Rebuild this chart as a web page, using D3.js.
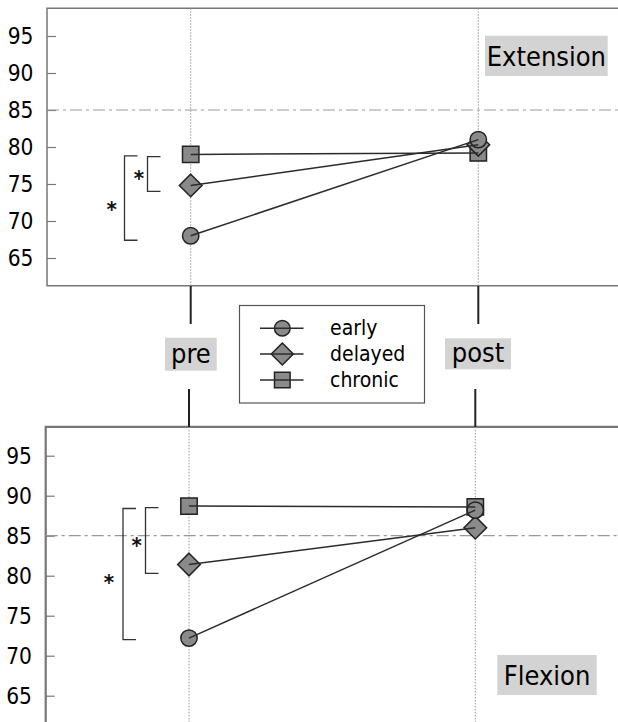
<!DOCTYPE html>
<html><head><meta charset="utf-8">
<script src="https://cdn.jsdelivr.net/npm/d3@7"></script>
<style>
html,body{margin:0;padding:0;background:#fff;}
svg text{font-family:"DejaVu Sans Condensed","DejaVu Sans",sans-serif;font-stretch:condensed;}
</style></head>
<body>
<svg id="chart" width="618" height="722"></svg>
<script>
// ---- data ----
const timepoints = ["pre", "post"];
const groups = ["early", "delayed", "chronic"];
const shapes = ["circle", "diamond", "square"];
const extensionPre = [68.0, 74.8, 79.0];
const extensionPost = [81.0, 80.3, 79.2];
const flexionPre = [72.2, 81.4, 88.7];
const flexionPost = [88.2, 86.0, 88.6];
const yTicks = [65, 70, 75, 80, 85, 90, 95];
const refValue = 85;
const panelNames = ["Extension", "Flexion"];
// significance brackets [from, to] in data units; outer then inner
const extBrackets = [[78.8, 67.4], [78.7, 74.0]];
const flexBrackets = [[88.4, 72.0], [88.5, 80.3]];

const svg = d3.select("#chart");
const lineCol = "#2b2b2b", fillCol = "#8a8a8a", frameCol = "#777";

function symbolPath(shape, size) {
  if (shape === "circle") return d3.symbol(d3.symbolCircle, Math.PI * size * size)();
  if (shape === "square") return d3.symbol(d3.symbolSquare, (2 * size) * (2 * size))();
  const h = size * 1.38;
  return `M0,${-h}L${h},0L0,${h}L${-h},0Z`;
}

function drawPanel(cfg) {
  const g = svg.append("g");
  const y = d3.scaleLinear().domain([65, 95]).range(cfg.yRange);
  const x = d3.scalePoint().domain(timepoints).range(cfg.xRange);
  const top = y(cfg.domain[1]), bottom = y(cfg.domain[0]);
  const left = cfg.left;

  g.append("path")
    .attr("d", `M700,${top}H${left}V${bottom}H700`)
    .attr("fill", "none").attr("stroke", frameCol).attr("stroke-width", cfg.topWidth || 1.5);

  const ax = g.append("g").attr("transform", `translate(${left},0)`)
    .call(d3.axisRight(y).tickValues(yTicks).tickSize(9).tickFormat(""));
  ax.select(".domain").remove();
  ax.selectAll(".tick line").attr("stroke", frameCol).attr("stroke-width", 1.2);
  g.selectAll(".ylab").data(yTicks).enter().append("text")
    .attr("x", cfg.labelX).attr("y", d => y(d)).attr("dy", "0.36em")
    .attr("text-anchor", "end").attr("font-size", 22.5).attr("fill", "#000")
    .text(d => d);

  g.selectAll(".vgrid").data(timepoints).enter().append("line")
    .attr("x1", d => x(d)).attr("x2", d => x(d))
    .attr("y1", top).attr("y2", bottom)
    .attr("stroke", "#999").attr("stroke-width", 1).attr("stroke-dasharray", "1.5,1.5");

  g.append("line").attr("x1", left).attr("x2", 618)
    .attr("y1", y(refValue)).attr("y2", y(refValue))
    .attr("stroke", "#999").attr("stroke-width", 1.2).attr("stroke-dasharray", "12,4,3,4");

  cfg.brackets.forEach((b, i) => {
    const bx = cfg.bracketX[i];
    g.append("path")
      .attr("d", `M${bx + 13},${y(b[0])}H${bx}V${y(b[1])}H${bx + 13}`)
      .attr("fill", "none").attr("stroke", "#333").attr("stroke-width", 1.3);
    g.append("text").attr("x", cfg.starPos[i][0]).attr("y", cfg.starPos[i][1] + 10.5)
      .attr("text-anchor", "middle").attr("font-size", 22).attr("font-weight", "bold").attr("fill", "#111")
      .text("*");
  });

  const idx = d3.range(groups.length).reverse();
  idx.forEach(i => {
    [["pre", cfg.pre[i]], ["post", cfg.post[i]]].forEach(([t, v]) => {
      g.append("path").attr("d", symbolPath(shapes[i], 8.2))
        .attr("transform", `translate(${x(t)},${y(v)})`)
        .attr("fill", fillCol).attr("stroke", "#222").attr("stroke-width", 1.5);
    });
  });
  const line = d3.line().x(d => x(d[0])).y(d => y(d[1]));
  idx.forEach(i => {
    g.append("path").attr("d", line([["pre", cfg.pre[i]], ["post", cfg.post[i]]]))
      .attr("fill", "none").attr("stroke", lineCol).attr("stroke-width", 1.5);
  });

  const lb = cfg.labelBox;
  g.append("rect").attr("x", lb[0]).attr("y", lb[1]).attr("width", lb[2]).attr("height", lb[3]).attr("fill", "#d3d3d3");
  g.append("text").attr("x", lb[0] + lb[2] / 2).attr("y", lb[1] + lb[3] / 2).attr("dy", "0.36em")
    .attr("text-anchor", "middle").attr("font-size", 27).attr("fill", "#000").text(cfg.name);
  return x;
}

const xTop = drawPanel({
  yRange: [258, 36], domain: [61.25, 98.75], xRange: [190.7, 478.3], left: 47, labelX: 33.5,
  pre: extensionPre, post: extensionPost, brackets: extBrackets, bracketX: [124.5, 147.5],
  starPos: [[111.7, 206.7], [139, 175.7]], labelBox: [485, 35.7, 122.7, 40.3], name: panelNames[0]
});
const xBot = drawPanel({
  yRange: [695.7, 455.7], domain: [60, 98.6], xRange: [189, 475.3], left: 45.7, labelX: 32,
  pre: flexionPre, post: flexionPost, brackets: flexBrackets, bracketX: [123, 145.5],
  starPos: [[109, 579.3], [136.7, 542.7]], labelBox: [497.3, 655, 99.4, 40], name: panelNames[1], topWidth: 2.2
});

const mid = svg.append("g");
timepoints.forEach((t, i) => {
  mid.append("line").attr("x1", xTop(t)).attr("x2", xTop(t)).attr("y1", 286).attr("y2", 324)
    .attr("stroke", "#222").attr("stroke-width", 2);
  mid.append("line").attr("x1", xBot(t)).attr("x2", xBot(t)).attr("y1", 389).attr("y2", 427)
    .attr("stroke", "#222").attr("stroke-width", 2);
});
const tBoxes = [[165, 337.7, 51.7, 33], [445, 338.3, 66, 31]];
timepoints.forEach((t, i) => {
  const b = tBoxes[i];
  mid.append("rect").attr("x", b[0]).attr("y", b[1]).attr("width", b[2]).attr("height", b[3]).attr("fill", "#d3d3d3");
  mid.append("text").attr("x", b[0] + b[2] / 2).attr("y", b[1] + b[3] / 2).attr("dy", "0.32em")
    .attr("text-anchor", "middle").attr("font-size", 27).attr("fill", "#000").text(t);
});

const lg = svg.append("g");
lg.append("rect").attr("x", 239.5).attr("y", 305.5).attr("width", 185).attr("height", 97.5)
  .attr("fill", "#fff").attr("stroke", "#555").attr("stroke-width", 1.2);
const rowY = [328.3, 354, 380];
groups.forEach((gname, i) => {
  lg.append("path").attr("d", symbolPath(shapes[i], i === 1 ? 8 : 7.8))
    .attr("transform", `translate(282.3,${rowY[i]})`)
    .attr("fill", fillCol).attr("stroke", "#222").attr("stroke-width", 1.5);
  lg.append("line").attr("x1", 260).attr("x2", 303.5).attr("y1", rowY[i]).attr("y2", rowY[i])
    .attr("stroke", lineCol).attr("stroke-width", 1.5);
  lg.append("text").attr("x", 330).attr("y", rowY[i]).attr("dy", "0.33em")
    .attr("font-size", 21).attr("fill", "#000").text(gname);
});
</script>
</body></html>
